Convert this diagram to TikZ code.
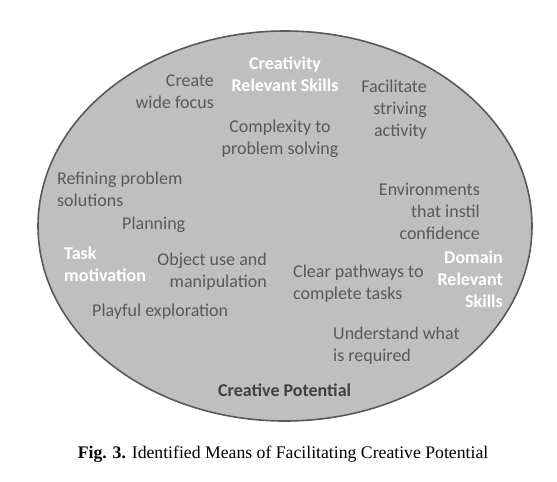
\documentclass[tikz,border=0pt]{standalone}
\usepackage{fontspec}
\usetikzlibrary{shapes.geometric}
\setmainfont{Carlito}
\newfontfamily\capfont{Liberation Serif}
\definecolor{ellfill}{HTML}{BFBFBF}
\definecolor{ellline}{HTML}{595959}
\definecolor{txtgray}{HTML}{595959}
\definecolor{txtdark}{HTML}{404040}
\begin{document}
\begin{tikzpicture}[x=1pt,y=-1pt,
  lbl/.style={inner sep=0pt, text=txtgray, font=\fontsize{18}{22}\selectfont},
  head/.style={inner sep=0pt, text=white, font=\fontsize{18}{22}\selectfont\bfseries},
  ]
\useasboundingbox[fill=white] (0,0) rectangle (557,482);
\node[ellipse, draw=ellline, line width=1.6pt, fill=ellfill, minimum width=494pt, minimum height=390pt, inner sep=0pt] (ell) at (285,226) {};
\node[head, align=center, anchor=base] (crs) at (285,91) {Creativity\\Relevant Skills};
\node[lbl, align=right, anchor=base east] (cwf) at (214,108) {Create\\wide focus};
\node[lbl, align=right, anchor=base east] (fsa) at (427,136) {Facilitate\\striving\\activity};
\node[lbl, align=center, anchor=base] (cps) at (280,154) {Complexity to\\problem solving};
\node[lbl, align=left, anchor=base west] (rps) at (57,206) {Refining problem\\solutions};
\node[lbl, anchor=base west] (pl) at (122,229) {Planning};
\node[lbl, align=right, anchor=base east] (env) at (480,239) {Environments\\that instil\\confidence};
\node[head, align=left, anchor=base west] (tm) at (64,281) {Task\\motivation};
\node[lbl, align=right, anchor=base east] (obj) at (267,287) {Object use and\\manipulation};
\node[lbl, align=left, anchor=base west] (clr) at (293,299) {Clear pathways to\\complete tasks};
\node[head, align=right, anchor=base east] (drs) at (503,307) {Domain\\Relevant\\Skills};
\node[lbl, anchor=base west] (pe) at (92,316) {Playful exploration};
\node[lbl, align=left, anchor=base west] (und) at (333,361) {Understand what\\is required};
\node[inner sep=0pt, text=txtdark, font=\fontsize{18}{22}\selectfont\bfseries, anchor=base west] (cp) at (218,396) {Creative Potential};
\node[inner sep=0pt, font=\capfont\fontsize{17.7}{20}\selectfont, anchor=base] (cap) at (283,458) {\textbf{Fig. 3.} Identified Means of Facilitating Creative Potential};
\end{tikzpicture}
\end{document}
